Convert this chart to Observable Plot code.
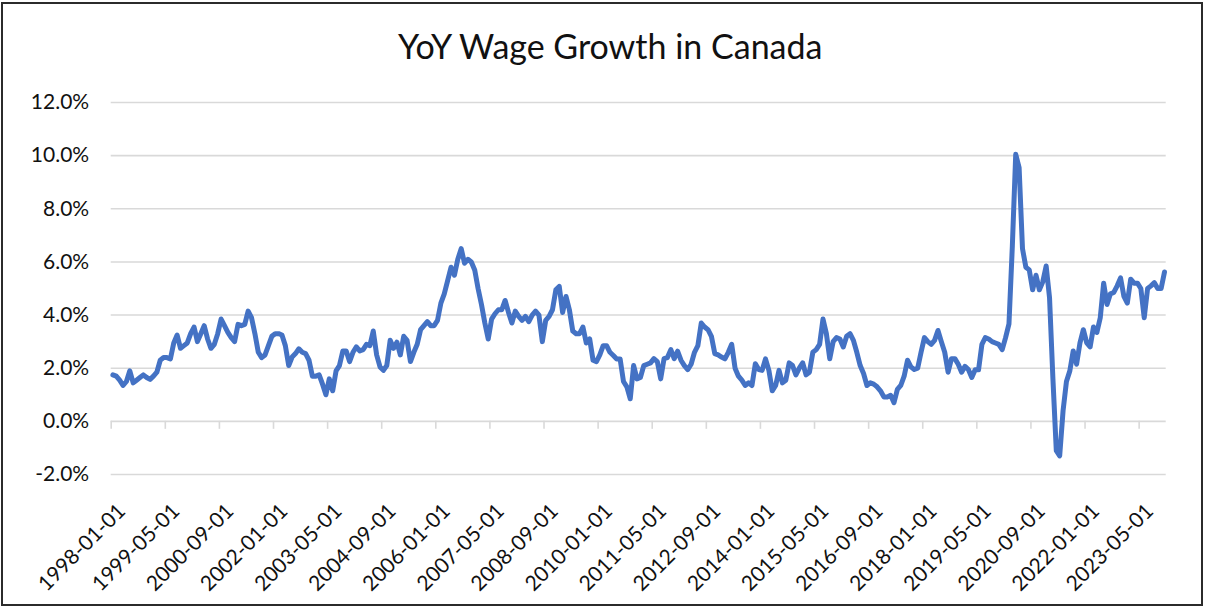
<!DOCTYPE html>
<html>
<head>
<meta charset="utf-8">
<script src="https://cdn.jsdelivr.net/npm/d3@7"></script>
<script src="https://cdn.jsdelivr.net/npm/@observablehq/plot@0.6"></script>
<style>
  body { margin: 0; background: #fff; }
  #wrap { position: relative; width: 1207px; height: 607px; overflow: hidden; }
  #wrap svg { position: absolute; left: 0; top: 0; }
  #border { position: absolute; left: 1px; top: 2px; width: 1202px; height: 604px; box-sizing: border-box; border: 2.5px solid #2b2b2b; pointer-events: none; }
</style>
</head>
<body>
<div id="wrap"><div id="border"></div></div>
<script>
const chartTitle = "YoY Wage Growth in Canada";
const firstMonth = "1998-01";
// Monthly YoY wage growth (%), Jan 1998 – Dec 2023, one row per year
const yoyWageGrowth = [
  1.75,1.7,1.55,1.35,1.5,1.9,1.45,1.55,1.65,1.75,1.65,1.58,
  1.7,1.85,2.3,2.4,2.4,2.35,2.95,3.25,2.75,2.85,2.95,3.3,
  3.55,3.0,3.3,3.6,3.1,2.75,2.9,3.3,3.85,3.6,3.35,3.15,
  3.0,3.65,3.6,3.65,4.15,3.9,3.3,2.6,2.4,2.5,2.85,3.2,
  3.3,3.3,3.25,2.85,2.1,2.42,2.55,2.73,2.6,2.55,2.3,1.7,
  1.7,1.75,1.4,1.0,1.6,1.15,1.9,2.1,2.65,2.65,2.25,2.6,
  2.8,2.65,2.7,2.9,2.85,3.4,2.5,2.05,1.92,2.1,3.05,2.75,
  2.98,2.5,3.2,3.05,2.25,2.6,2.9,3.45,3.6,3.75,3.6,3.6,
  3.8,4.45,4.8,5.3,5.8,5.5,6.1,6.5,5.95,6.1,6.0,5.7,
  5.0,4.4,3.7,3.1,3.85,4.05,4.2,4.2,4.55,4.1,3.7,4.15,
  3.95,3.8,3.95,3.75,4.0,4.15,4.0,3.0,3.8,3.95,4.2,4.95,
  5.08,4.1,4.7,4.2,3.4,3.3,3.3,3.55,2.95,3.1,2.3,2.25,
  2.5,2.85,2.85,2.6,2.48,2.35,2.35,1.5,1.3,0.85,2.1,1.6,
  1.65,2.1,2.15,2.2,2.36,2.25,1.6,2.36,2.4,2.7,2.36,2.64,
  2.3,2.1,1.95,2.15,2.6,2.85,3.7,3.55,3.45,3.2,2.55,2.5,
  2.42,2.35,2.6,2.9,2.0,1.7,1.55,1.35,1.45,1.35,2.17,1.95,
  1.92,2.35,1.92,1.15,1.35,1.92,1.45,1.55,2.2,2.1,1.75,2.0,
  2.2,1.75,1.85,2.6,2.7,2.9,3.85,3.3,2.36,3.0,3.15,3.1,
  2.8,3.2,3.3,3.05,2.6,2.1,1.8,1.35,1.45,1.4,1.3,1.15,
  0.92,0.92,0.98,0.7,1.2,1.35,1.7,2.3,2.05,1.95,2.0,2.6,
  3.15,3.0,2.9,3.05,3.42,3.0,2.6,1.85,2.36,2.36,2.15,1.85,
  2.07,1.95,1.65,1.94,1.94,2.9,3.15,3.1,3.0,2.95,2.9,2.7,
  3.15,3.67,6.6,10.05,9.55,6.5,5.8,5.7,4.95,5.5,4.95,5.25,
  5.85,4.65,1.6,-1.1,-1.3,0.4,1.5,1.9,2.65,2.15,2.95,3.45,
  2.95,2.8,3.55,3.35,3.9,5.2,4.4,4.8,4.85,5.1,5.4,4.7,
  4.45,5.35,5.2,5.2,5.0,3.9,5.0,5.1,5.22,5.0,5.0,5.62
];
const yTicks = [-2, 0, 2, 4, 6, 8, 10, 12];
const xTickLabels = [
  "1998-01-01","1999-05-01","2000-09-01","2002-01-01","2003-05-01",
  "2004-09-01","2006-01-01","2007-05-01","2008-09-01","2010-01-01",
  "2011-05-01","2012-09-01","2014-01-01","2015-05-01","2016-09-01",
  "2018-01-01","2019-05-01","2020-09-01","2022-01-01","2023-05-01"
];
const tickEvery = 16; // months between labelled categories

const data = yoyWageGrowth.map((v, i) => ({i, v}));
const xTicks = xTickLabels.map((label, k) => ({k: k * tickEvery, label}));

const chart = Plot.plot({
  width: 1207,
  height: 607,
  marginLeft: 110.7,
  marginRight: 41.3,
  marginTop: 102,
  marginBottom: 133,
  x: {domain: [0, yoyWageGrowth.length], axis: null},
  y: {domain: [-2, 12], axis: null},
  style: {fontFamily: "Lato, 'Open Sans', sans-serif", background: "transparent", overflow: "visible"},
  marks: [
    Plot.ruleY(yTicks, {stroke: "#d9d9d9", strokeWidth: 1.6}),
    Plot.ruleX(xTicks, {x: "k", y1: 0, y2: -0.3, stroke: "#d9d9d9", strokeWidth: 1.6}),
    Plot.text(yTicks, {y: d => d, frameAnchor: "left", text: d => d.toFixed(1) + "%", textAnchor: "end", dx: -22, fontSize: 21, fill: "#111"}),
    Plot.text(xTicks, {x: d => d.k + 0.5, frameAnchor: "bottom", text: "label", rotate: -45, textAnchor: "end", lineAnchor: "middle", dx: 9, dy: 33, fontSize: 21, fill: "#111"}),
    Plot.line(data, {x: d => d.i + 0.5, y: "v", stroke: "#4472C4", strokeWidth: 5, strokeLinejoin: "round", strokeLinecap: "round"}),
    Plot.text([chartTitle], {frameAnchor: "top", text: d => d, dx: -28.5, dy: -54, lineAnchor: "middle", fontSize: 34, fill: "#111"})
  ]
});
document.getElementById("wrap").prepend(chart);
</script>
</body>
</html>
